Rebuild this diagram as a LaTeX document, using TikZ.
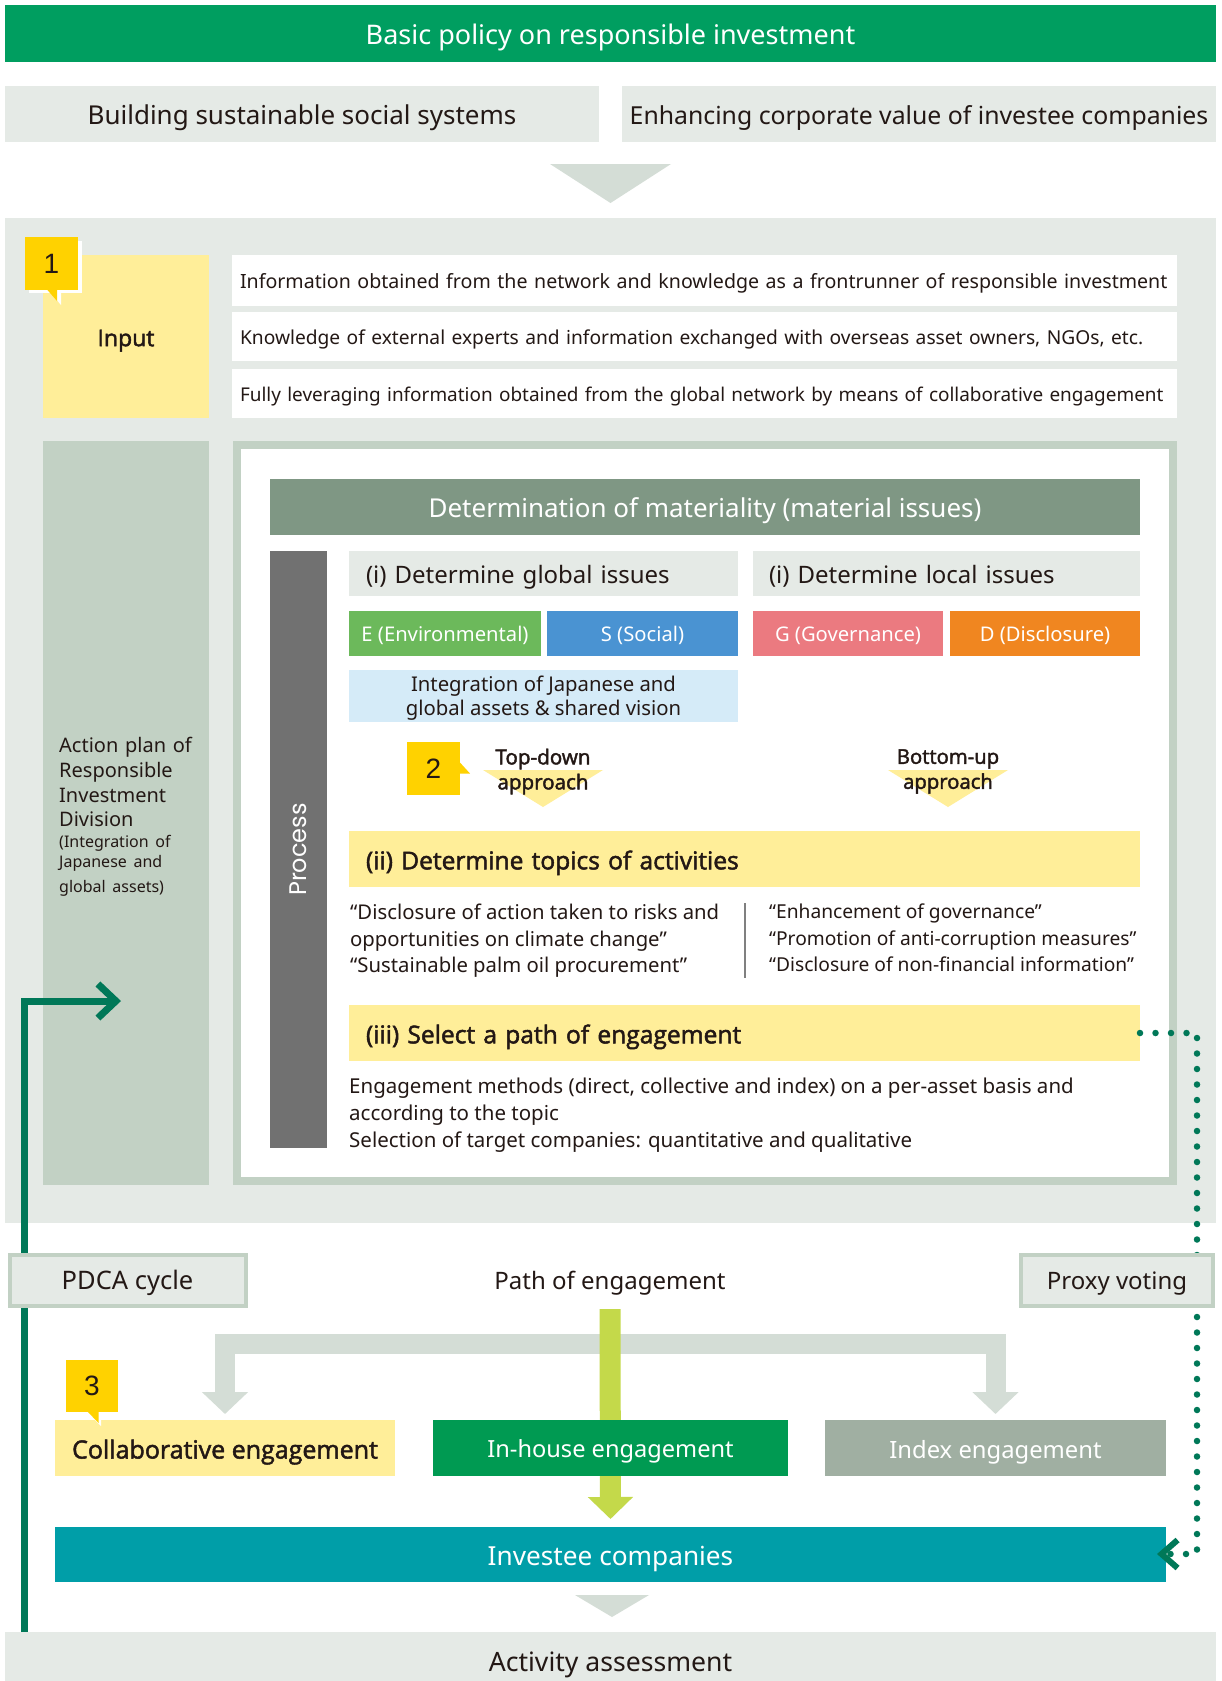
\documentclass[tikz,border=0pt]{standalone}
\usepackage{fontspec}
\setmainfont{Noto Sans}
\newfontfamily\heavy{Open Sans}[AutoFakeBold=2]
\newfontfamily\procfont{Poppins}
\newfontfamily\numfont{Liberation Sans}
\usetikzlibrary{arrows.meta}

\definecolor{ink}{RGB}{35,24,21}
\definecolor{policygreen}{RGB}{0,158,96}
\definecolor{panel}{RGB}{229,234,230}
\definecolor{mist}{RGB}{212,221,214}
\definecolor{sage}{RGB}{194,209,196}
\definecolor{cream}{RGB}{255,238,153}
\definecolor{gold}{RGB}{255,210,0}
\definecolor{moss}{RGB}{127,151,132}
\definecolor{slate}{RGB}{113,113,113}
\definecolor{envgreen}{RGB}{108,185,91}
\definecolor{socblue}{RGB}{74,147,210}
\definecolor{govpink}{RGB}{235,122,128}
\definecolor{disorange}{RGB}{240,134,32}
\definecolor{skyblue}{RGB}{213,235,248}
\definecolor{housegreen}{RGB}{0,154,82}
\definecolor{indexgrey}{RGB}{160,175,162}
\definecolor{investeeteal}{RGB}{0,158,168}
\definecolor{pathlime}{RGB}{196,217,74}
\definecolor{linegreen}{RGB}{0,120,88}

\newcommand\fsz[2]{\fontsize{#1}{#2}\selectfont}

\begin{document}
\begin{tikzpicture}[x=1pt, y=-1pt,
  blk/.style={inner sep=0pt, outer sep=0pt, anchor=north west, text=ink},
  leftbox/.style={blk, align=left},
  % single-line label size with a fixed text box, so that text sits centred
  sz/.style={font=\fontsize{#1}{#1}\selectfont,
    text height=0.88*#1pt, text depth=0.04*#1pt},
  badge/.style={blk, fill=gold, minimum width=53pt, minimum height=53pt,
    font=\numfont\fsz{28}{32}},
  pdcaline/.style={draw=linegreen, line width=7pt,
    -{Straight Barb[length=18pt,width=34pt]}},
  dotline/.style={draw=linegreen, line width=6.5pt, line cap=round,
    dash pattern=on 0pt off 15.5pt,
    -{Straight Barb[length=16pt,width=28pt,line width=6pt]}},
  branch/.style={draw=mist, line width=20pt,
    -{Triangle[length=22pt,width=45pt]}},
  limearrow/.style={draw=pathlime, line width=21pt,
    -{Triangle[length=22pt,width=44pt]}},
]
\useasboundingbox (0,0) rectangle (1221,1681);
\fill[white] (0,0) rectangle (1221,1681);

% ---- policy header and goals
\node[blk, fill=policygreen, text=white, minimum width=1211pt, minimum height=57pt,
  sz=27] (policy) at (5,5) {Basic policy on responsible investment};
\node[blk, fill=panel, minimum width=594pt, minimum height=56pt,
  sz=26] (goalL) at (5,86) {Building sustainable social systems};
\node[blk, fill=panel, minimum width=594pt, minimum height=56pt,
  sz=24.8] (goalR) at (622,86) {Enhancing corporate value of investee companies};
\fill[mist] (550,164) -- (671,164) -- (610.5,203) -- cycle;

% ---- main stage
\node[blk, fill=panel, minimum width=1211pt, minimum height=1005pt] (stage) at (5,218) {};

% input
\node[blk, fill=cream, minimum width=166pt, minimum height=163pt,
  sz=23] (input) at (43,255) {\heavy\bfseries Input};
\node[leftbox, fill=white, minimum height=51pt, text width=929pt, inner xsep=8pt,
  sz=19.6] (info1) at (232,255)
  {\mbox{Information obtained from the network and knowledge as a frontrunner of responsible investment}};
\node[leftbox, fill=white, minimum height=49pt, text width=929pt, inner xsep=8pt,
  sz=19.2] (info2) at (232,312)
  {\mbox{Knowledge of external experts and information exchanged with overseas asset owners, NGOs, etc.}};
\node[leftbox, fill=white, minimum height=49pt, text width=929pt, inner xsep=8pt,
  sz=18.95] (info3) at (232,369)
  {\mbox{Fully leveraging information obtained from the global network by means of collaborative engagement}};

% badge 1
\fill[white] (29,241) rectangle (82,293);
\fill[white] (51,293) -- (61,293) -- (61,305) -- cycle;
\node[badge] (b1) at (25,237) {1};
\fill[gold] (47,289.5) -- (57,289.5) -- (57,301) -- cycle;

% action plan column
\node[blk, fill=sage, minimum width=166pt, minimum height=744pt] (plan) at (43,441) {};
\node[anchor=west, inner sep=0pt, text width=148pt, align=left, text=ink,
  font=\fsz{20}{24.7}] (plantext) at (59,817)
  {Action plan of\\Responsible\\Investment\\Division\par
   \fsz{16}{20.5}(Integration of\\Japanese and\\global assets)};

% process frame
\node[blk, draw=sage, line width=8pt, fill=white, minimum width=936pt,
  minimum height=736pt] (frame) at (237,445) {};
\node[blk, fill=moss, text=white, minimum width=870pt, minimum height=56pt,
  sz=26] (mat) at (270,479) {Determination of materiality (material issues)};
\node[blk, fill=slate, text=white, minimum width=57pt, minimum height=597pt,
  font=\procfont\fsz{24}{28}] (procbar) at (270,551) {\rotatebox{90}{Process}};

\node[leftbox, fill=panel, minimum height=45pt, text width=355pt, inner xsep=17pt,
  sz=24] (glob) at (349,551) {(i) Determine global issues};
\node[leftbox, fill=panel, minimum height=45pt, text width=355pt, inner xsep=16pt,
  sz=24] (loc) at (753,551) {(i) Determine local issues};

\node[blk, fill=envgreen, text=white, minimum width=192pt, minimum height=45pt,
  sz=20.2] (env) at (349,611) {E (Environmental)};
\node[blk, fill=socblue, text=white, minimum width=191pt, minimum height=45pt,
  sz=20.2] (soc) at (547,611) {S (Social)};
\node[blk, fill=govpink, text=white, minimum width=190pt, minimum height=45pt,
  sz=20.2] (gov) at (753,611) {G (Governance)};
\node[blk, fill=disorange, text=white, minimum width=190pt, minimum height=45pt,
  sz=20.2] (dis) at (950,611) {D (Disclosure)};

\node[blk, fill=skyblue, minimum width=389pt, minimum height=52pt, align=center,
  font=\fsz{20.3}{23.6}] (integ) at (349,670)
  {\rule{0pt}{20pt}Integration of Japanese and\\global assets \& shared vision};

% badge 2 and approach arrows
\node[badge] (b2) at (407,742) {2};
\fill[gold] (459.5,762) -- (470,773.5) -- (459.5,773.5) -- cycle;
\fill[cream] (483,770) -- (603,770) -- (543,807) -- cycle;
\node[inner sep=0pt, align=center, text=ink, font=\heavy\bfseries\fsz{20.6}{25}]
  (topdown) at (543,771.5) {Top-down\\approach};
\fill[cream] (888,770) -- (1008,770) -- (948,807) -- cycle;
\node[inner sep=0pt, align=center, text=ink, font=\heavy\bfseries\fsz{20.3}{25}]
  (bottomup) at (948,771.5) {Bottom-up\\approach};

% topics
\node[leftbox, fill=cream, minimum height=56pt, text width=757pt, inner xsep=17pt,
  sz=24.6] (topics) at (349,831) {\heavy\bfseries (ii) Determine topics of activities};
\node[anchor=north west, inner sep=0pt, align=left, text=ink, font=\fsz{20.3}{26.5}]
  (quotesL) at (350,904)
  {“Disclosure of action taken to risks and\\opportunities on climate change”\\“Sustainable palm oil procurement”};
\draw[line width=1.5pt, draw=gray] (745,903) -- (745,978);
\node[anchor=north west, inner sep=0pt, align=left, text=ink, font=\fsz{19.2}{26.5}]
  (quotesR) at (769,904)
  {“Enhancement of governance”\\“Promotion of anti-corruption measures”\\“Disclosure of non-financial information”};

% path selection
\node[leftbox, fill=cream, minimum height=56pt, text width=757pt, inner xsep=17pt,
  sz=24.6] (select) at (349,1005) {\heavy\bfseries (iii) Select a path of engagement};
\node[anchor=north west, inner sep=0pt, align=left, text=ink, font=\fsz{20.5}{26.7}]
  (engtext) at (349,1078)
  {Engagement methods (direct, collective and index) on a per-asset basis and\\according to the topic\\Selection of target companies: quantitative and qualitative};

% ---- engagement paths
\node[blk, fill=panel, minimum width=1211pt, minimum height=49pt,
  sz=26.6, text height=31.4pt] (activity) at (5,1632) {Activity assessment};
\fill[mist] (575,1595) -- (649,1595) -- (612,1617) -- cycle;
\node[blk, fill=investeeteal, text=white, minimum width=1111pt, minimum height=55pt,
  sz=26.2] (investee) at (55,1527) {Investee companies};
\node[blk, fill=cream, minimum width=340pt, minimum height=56pt,
  sz=25] (collab) at (55,1420) {\heavy\bfseries Collaborative engagement};
\node[blk, fill=indexgrey, text=white, minimum width=341pt, minimum height=56pt,
  sz=23.8] (index) at (825,1420) {Index engagement};
\node[inner sep=0pt, minimum height=56pt, text=ink, sz=24, text height=18pt]
  (pathlabel) at (610,1281) {Path of engagement};

% PDCA feedback line
\coordinate (pdcaturn) at (24.5,1001);
\coordinate (pdcatip) at (121,1001);
\draw[pdcaline] (activity.north -| pdcaturn) -- (pdcaturn) -- (pdcatip);

% proxy voting line
\coordinate (proxydown) at (1197,1554);
\coordinate (proxytip) at (1157,1554);
\draw[dotline] (select.east) -| (proxydown) -- (proxytip);

% branches to collaborative and index engagement
\coordinate (fork) at (610,1344);
\draw[branch] (fork) -| ([yshift=6pt]collab.north);
\draw[branch] (fork) -| ([yshift=6pt]index.north);
\draw[limearrow] (pathlabel.south) -- ([yshift=8pt]investee.north);

\node[blk, fill=housegreen, text=white, minimum width=355pt, minimum height=56pt,
  sz=23.6] (inhouse) at (433,1420) {In-house engagement};

% badge 3
\fill[white] (69,1363) rectangle (121,1415);
\fill[white] (90,1415) -- (101,1415) -- (101,1426) -- cycle;
\node[badge, minimum width=52pt, minimum height=52pt] (b3) at (66,1360) {3};
\fill[gold] (87.5,1411.5) -- (98.5,1411.5) -- (98.5,1423) -- cycle;

% side labels
\node[blk, fill=panel, draw=sage, line width=4pt, minimum width=236pt, minimum height=51pt,
  sz=25.5, text height=19pt] (pdca) at (9.5,1255) {PDCA cycle};
\node[blk, fill=panel, draw=sage, line width=4pt, minimum width=192pt, minimum height=51pt,
  sz=24, text height=18pt] (proxy) at (1021,1255) {Proxy voting};
\end{tikzpicture}
\end{document}
